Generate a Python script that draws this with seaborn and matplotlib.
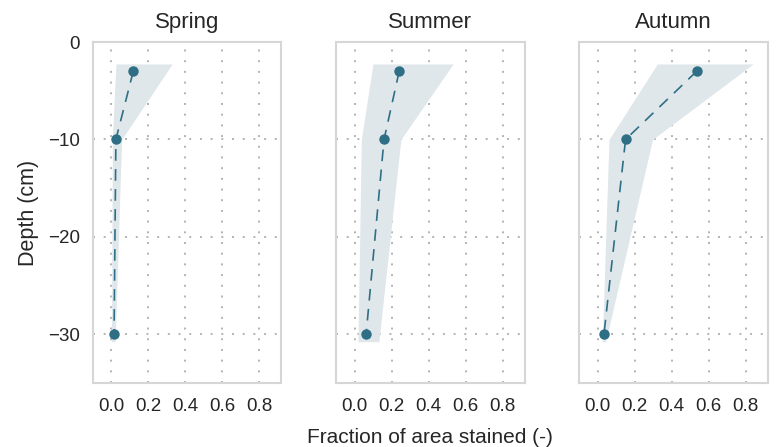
import matplotlib
matplotlib.use("Agg")
import matplotlib.pyplot as plt
import seaborn as sns
import pandas as pd

# Sampling depths (cm) and mean stained fraction per season
depth = [-3, -10, -30]
seasons = ["Spring", "Summer", "Autumn"]
spring = [0.118, 0.024, 0.014]
summer = [0.241, 0.159, 0.062]
autumn = [0.535, 0.150, 0.033]

# Envelope of the stained fraction (min / max) per depth band
band_depth = [-2.25, -10, -30.75]
spring_lo = [0.024, 0.005, 0.000]
spring_hi = [0.329, 0.055, 0.020]
summer_lo = [0.099, 0.036, 0.018]
summer_hi = [0.533, 0.250, 0.131]
autumn_lo = [0.322, 0.060, 0.024]
autumn_hi = [0.840, 0.296, 0.042]

x_ticks = [0.0, 0.2, 0.4, 0.6, 0.8]
y_ticks = [0, -10, -20, -30]

means = {"Spring": spring, "Summer": summer, "Autumn": autumn}
lows = {"Spring": spring_lo, "Summer": summer_lo, "Autumn": autumn_lo}
highs = {"Spring": spring_hi, "Summer": summer_hi, "Autumn": autumn_hi}

sns.set_theme(style="whitegrid", rc={
    "axes.edgecolor": "#d6d6d6",
    "axes.linewidth": 1.5,
})
plt.rcParams["font.family"] = ["Liberation Sans", "DejaVu Sans"]

line_color = "#2f6f86"
band_color = "#dfe7eb"
text_color = "#262626"

fig, axes = plt.subplots(1, 3, figsize=(7.78, 4.47), dpi=100, sharey=True)
fig.subplots_adjust(left=0.1195, right=0.987, top=0.906, bottom=0.143, wspace=0.29)

for ax, season in zip(axes, seasons):
    ax.grid(True, linestyle=(0, (1, 4.5)), color="#b3b3b3", linewidth=1.4)
    ax.fill_betweenx(band_depth, lows[season], highs[season],
                     color=band_color, linewidth=0, zorder=1)
    df = pd.DataFrame({"fraction": means[season], "depth": depth})
    sns.lineplot(data=df, x="fraction", y="depth", sort=False, orient="y",
                 ax=ax, color=line_color, linewidth=1.2, marker="o",
                 markersize=7.5, markeredgewidth=0, zorder=3)
    for line in ax.lines:
        line.set_dashes([7, 5])
    ax.set_title(season, fontsize=16, color=text_color, pad=10)
    ax.set_xlim(-0.1, 0.92)
    ax.set_ylim(-35, 0)
    ax.set_xticks(x_ticks)
    ax.set_xticklabels([f"{t:.1f}" for t in x_ticks])
    ax.set_yticks(y_ticks)
    ax.tick_params(axis="x", labelsize=13.5, colors=text_color, pad=5)
    ax.tick_params(axis="y", labelsize=13.5, colors=text_color, pad=3.5)
    ax.set_xlabel("")
    ax.set_ylabel("")
    for sp in ax.spines.values():
        sp.set_visible(True)

axes[0].set_ylabel("Depth (cm)", fontsize=15.5, color=text_color, labelpad=6)
axes[1].set_xlabel("Fraction of area stained (-)", fontsize=15, color=text_color,
                   labelpad=9)

fig.savefig("out.png", dpi=100)
